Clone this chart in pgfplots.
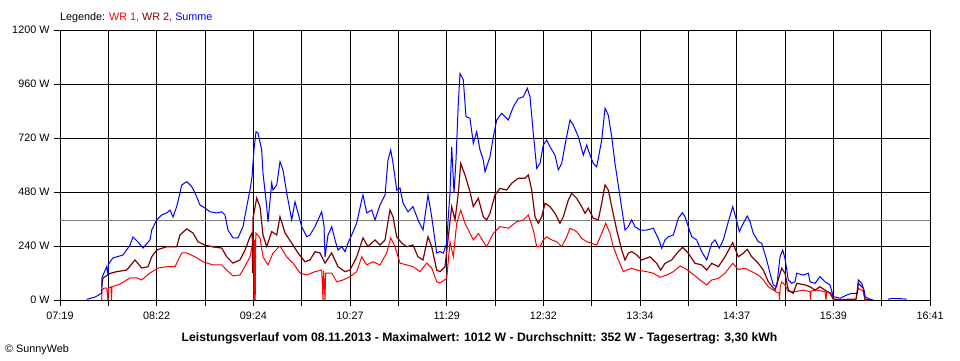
\documentclass[border=0pt]{standalone}
\usepackage{pgfplots}
\pgfplotsset{compat=1.18}
\usepackage{fontspec}
\setmainfont{Liberation Sans}
\definecolor{wr1}{RGB}{255,0,0}
\definecolor{wr2}{RGB}{128,0,0}
\definecolor{summe}{RGB}{0,0,255}
\definecolor{avg}{RGB}{128,128,128}
\begin{document}
\begin{tikzpicture}[x=1pt,y=1pt]
\useasboundingbox (0,0) rectangle (960,360);
\begin{axis}[
  at={(60pt,60pt)}, anchor=south west,
  width=870pt, height=270pt, scale only axis,
  xmin=60, xmax=930, ymin=0, ymax=1200,
  xtick={60,156.667,253.333,350,446.667,543.333,640,736.667,833.333,930},
  xticklabels={07:19,08:22,09:24,10:27,11:29,12:32,13:34,14:37,15:39,16:41},
  minor xtick={108.333,205,301.667,398.333,495,591.667,688.333,785,881.667},
  ytick={0,240,480,720,960,1200},
  yticklabels={0 W,240 W,480 W,720 W,960 W,1200 W},
  xmajorgrids, xminorgrids, ymajorgrids,
  major grid style={black, line width=1pt},
  minor grid style={black, line width=1pt},
  axis line style={black, line width=1pt},
  tick style={black, line width=1pt},
  tick align=outside, xtick pos=bottom, ytick pos=left,
  major tick length=6pt, minor tick length=6pt,
  ticklabel style={font=\fontsize{10.8}{12}\selectfont},
  xticklabel style={yshift=-2pt},
  yticklabel style={xshift=-1pt},
]
% average line
\addplot[avg, line width=1pt] coordinates {(60,352) (930,352)};
% WR 1
\addplot[wr1, line width=1pt] coordinates {
(101.7,0) (102,44) (104,53) (106.7,53) (108,0) (108.5,53) (111,58) (111.5,0) (112,59) (120,71) (130,98) (136.7,98) (141.7,89) (150,120) (158,142) (166.7,148) (175,148) (181.7,209) (186.7,209) (195,192) (203,170) (213,156) (221.7,156) (226.7,133) (233,107) (240,111) (246.7,164) (250,192) (252,237) (253.5,267) (254,0) (254.6,267) (255.2,0) (255.8,298) (260,276) (263,192) (268,156) (273,209) (280,240) (286.7,192) (293,164) (300,120) (306.7,111) (315,126) (321.7,133) (323,0) (323.6,130) (325,0) (325.6,120) (331.7,120) (336.7,81) (343,89) (350,104) (356.7,126) (361.7,192) (366.7,156) (373,170) (380,156) (386.7,209) (390.7,276) (395,237) (400,164) (406.7,156) (413,148) (420,126) (426.7,164) (431.7,142) (436.7,81) (440,76) (446.7,96) (450,259) (453.3,192) (456.7,341) (460.7,400) (465,341) (470,296) (473.3,267) (478.3,296) (483.3,259) (486.7,237) (493.3,296) (500,326) (508.3,319) (516.7,348) (523.3,356) (528.3,378) (533.3,311) (536.7,237) (540,237) (543.3,267) (546.7,281) (551.7,267) (556.7,259) (561.7,237) (566.7,281) (570,319) (576.7,304) (581.7,274) (586.7,259) (591.7,252) (596.7,244) (601.7,296) (605.7,341) (610,296) (613.3,237) (618.3,178) (623.3,126) (626.7,133) (631.7,141) (636.7,133) (646.7,126) (653.3,119) (660,101) (666.7,111) (673.3,126) (680,151) (685,141) (691.7,119) (700,89) (706.7,67) (711.7,89) (718.3,96) (725,119) (732.7,163) (738.3,136) (745,141) (751.7,126) (758.3,111) (763.3,89) (768.3,59) (773.3,44) (776,36) (779,31) (779.5,0) (780.2,60) (781.7,80) (785,67) (788.3,37) (795,37) (803.3,44) (810,37) (810.5,0) (811,40) (816.7,44) (825,37) (826,0) (826.6,37) (831.7,30) (833.3,2) (856,2) (858.3,52) (863,40) (865,0) (870,0)
};
% WR 2
\addplot[wr2, line width=1.2pt] coordinates {
(101.7,59) (103,98) (110,118) (116.7,126) (126.7,133) (135,178) (141.7,142) (148,148) (151.7,192) (156.7,222) (166.7,237) (176.7,237) (180,289) (186.7,316) (193,298) (198,259) (205,244) (213,236) (221.7,231) (226.7,192) (233,164) (240,178) (245,222) (250,281) (252.3,300) (252.6,120) (253,364) (256.7,453) (260,415) (263,289) (266.7,237) (271.7,304) (276.7,289) (280,370) (285,298) (291.7,253) (298,209) (305,170) (310,178) (315,215) (320,209) (325,164) (331.7,209) (338,148) (345,126) (350,133) (356.7,192) (363,276) (368,237) (375,267) (380,244) (385,267) (390,400) (393,370) (396.7,281) (401.7,253) (406.7,237) (413,244) (418,192) (423,178) (428,281) (431.7,237) (436.7,133) (440,126) (445,148) (448.3,281) (451.7,415) (455,356) (458.3,474) (460.7,607) (465,556) (470,481) (473.3,415) (478.3,452) (483.3,370) (486.7,356) (490,385) (495,467) (500,496) (506.7,489) (511.7,519) (518.3,541) (525,541) (528.3,556) (531.7,489) (535,370) (538.3,341) (541.7,370) (545,430) (550,415) (555,385) (560,341) (563.3,370) (568.3,444) (571.7,474) (576.7,452) (581.7,415) (585,385) (588.3,408) (593.3,363) (598.3,356) (601.7,430) (605,511) (608.3,489) (611.7,415) (616.7,311) (621.7,222) (625,178) (628.3,208) (631.7,215) (636.7,200) (641.7,178) (650,192) (656.7,163) (660.7,133) (665,163) (671.7,178) (678.3,215) (682.7,234) (688.3,208) (695,163) (701.7,156) (706.7,133) (711.7,163) (718.3,148) (725,192) (732.7,255) (738.3,192) (743.3,208) (747.3,225) (751.7,192) (758.3,163) (763.3,133) (768.3,81) (775,44) (779,102) (781.7,141) (785,119) (788.3,44) (793.3,30) (796.7,74) (805,67) (810,59) (815,44) (820,59) (825,44) (830,30) (833.3,4) (840,2) (856,4) (858.3,74) (863.3,52) (865,4) (870,0)
};
% Summe
\addplot[summe, line width=1pt] coordinates {
(86.7,3) (95,13) (101.7,30) (101.9,98) (104,120) (106.7,148) (108,110) (108.5,160) (113,187) (123,200) (130,244) (133,280) (138,258) (143,231) (150,267) (151.7,311) (156.7,356) (161.7,378) (166.7,387) (170,400) (173,369) (176.7,415) (180,476) (181.7,511) (186.7,526) (191.7,504) (195,476) (200,422) (205,409) (210,392) (216.7,387) (221.7,392) (225,378) (228,311) (233,276) (238,276) (243,326) (246.7,415) (250,489) (252,547) (254,667) (256,748) (258,742) (261.7,667) (263,564) (266.7,415) (268,348) (271.7,520) (273,489) (276.7,511) (280,615) (283,578) (286.7,476) (291.7,356) (295,437) (298,387) (301.7,326) (306.7,281) (310,289) (315,326) (318,356) (321.7,392) (324,330) (325,192) (328,289) (331.7,326) (335,267) (338,222) (341.7,237) (345,215) (348,253) (351.7,289) (356.7,342) (361.7,444) (363,467) (366.7,387) (371.7,400) (375,356) (380,422) (385,467) (388,622) (390.7,667) (393,609) (396.7,489) (400,498) (403,431) (408,392) (413,415) (418,356) (423,311) (428,467) (431.7,370) (436.7,209) (440,215) (443.3,208) (446.7,252) (448.3,370) (450,476) (451.7,681) (454,476) (456,622) (458.3,874) (460,1007) (463.3,978) (466,815) (470,808) (473.3,696) (476.7,748) (480,667) (483.3,622) (485,570) (490,637) (493.3,726) (496.7,800) (501.7,830) (508.3,800) (513.3,859) (518.3,896) (523.3,903) (527.3,941) (530,903) (533.3,741) (536.7,585) (540,607) (543.3,689) (546.7,711) (550,681) (555,644) (558.3,578) (561.7,607) (565,689) (570,800) (573.3,778) (578.3,726) (583.3,644) (586.7,689) (590,644) (593.3,607) (596.7,592) (601.7,711) (605,852) (608.3,822) (611.7,726) (615,607) (620,459) (625,311) (628.3,326) (631.7,356) (635,326) (640,311) (646.7,311) (653.3,319) (658.3,274) (661.7,230) (665,267) (668.3,281) (673.3,289) (678.3,363) (682.3,388) (685,370) (688.3,326) (691.7,281) (696.7,267) (701.7,215) (706.7,178) (711.7,252) (715,267) (719.3,230) (723.3,267) (728.3,348) (732.7,415) (736,363) (739.3,304) (743.3,341) (747.3,373) (750,348) (753.3,296) (758.3,259) (761.7,252) (766.7,178) (770,119) (773.3,67) (776.7,59) (780,192) (782.7,222) (785,185) (788.3,89) (791.7,74) (795,81) (796.7,119) (803.3,111) (808.3,119) (810,81) (815,74) (820,104) (825,81) (830,67) (833.3,15) (840,8) (846.7,22) (851.7,30) (857.3,30) (858.3,89) (861.7,74) (864,44) (865,15) (870,3) (873.3,0)
};
\addplot[summe, line width=1pt] coordinates {(888,4) (892,7) (900,6) (906.7,4)};
\end{axis}
\node[anchor=base west, inner sep=0, font=\fontsize{10.8}{12}\selectfont] at (60,339.3)
  {Legende: \textcolor{wr1}{WR 1,} \textcolor{wr2}{WR 2,} \textcolor{summe}{Summe}};
\node[anchor=base, inner sep=0, font=\bfseries\fontsize{12.2}{14}\selectfont] at (479.5,18.3)
  {Leistungsverlauf vom 08.11.2013 - Maximalwert: 1012 W - Durchschnitt: 352 W - Tagesertrag: 3,30 kWh};
\node[anchor=base west, inner sep=0, font=\fontsize{10.8}{12}\selectfont] at (5,7.3) {© SunnyWeb};
\end{tikzpicture}
\end{document}
